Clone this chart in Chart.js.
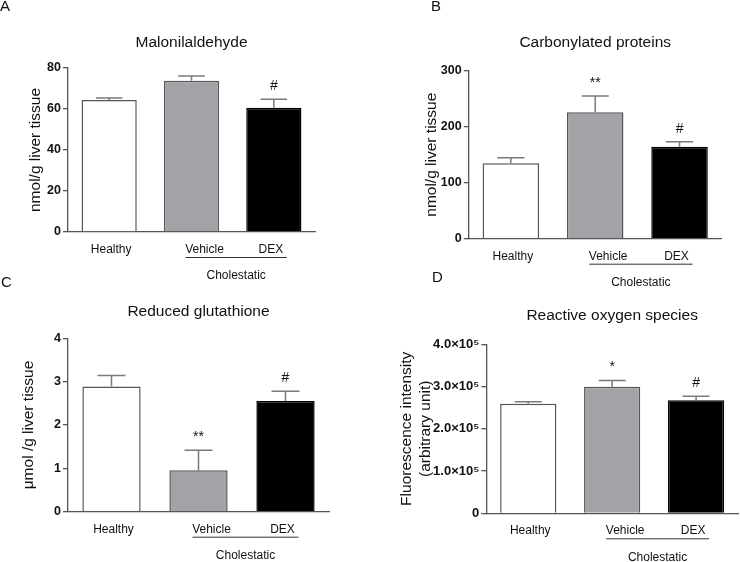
<!DOCTYPE html>
<html>
<head>
<meta charset="utf-8">
<script src="https://cdn.jsdelivr.net/npm/chart.js@4/dist/chart.umd.min.js"></script>
<style>
  html, body { margin: 0; padding: 0; background: #fff; }
  #wrap { position: relative; width: 740px; height: 562px; overflow: hidden; font-family: "Liberation Sans", Arial, sans-serif; }
  canvas { position: absolute; }
  .lt { position: absolute; font-size: 15px; line-height: 15px; color: #111; }
</style>
</head>
<body>
<div id="wrap">
  <canvas id="cA"></canvas>
  <canvas id="cB"></canvas>
  <canvas id="cC"></canvas>
  <canvas id="cD"></canvas>
  <div class="lt" style="left:0px;top:-2px;">A</div>
  <div class="lt" style="left:431px;top:-2px;">B</div>
  <div class="lt" style="left:1px;top:274px;">C</div>
  <div class="lt" style="left:432px;top:269px;">D</div>
</div>
<script>
// ---- data ----
const categories = ['Healthy', 'Vehicle', 'DEX'];
const groupLabel = 'Cholestatic';

const mdaTitle = 'Malonilaldehyde';
const mdaMean = [64.4, 73.8, 60.6];
const mdaErr = [1.0, 2.3, 4.1];
const mdaSig = ['', '', '#'];
const mdaTicks = [0, 20, 40, 60, 80];

const carbTitle = 'Carbonylated proteins';
const carbMean = [134.6, 226, 164.3];
const carbErr = [10, 29, 9];
const carbSig = ['', '**', '#'];
const carbTicks = [0, 100, 200, 300];

const gshTitle = 'Reduced glutathione';
const gshMean = [2.89, 0.955, 2.555];
const gshErr = [0.25, 0.46, 0.225];
const gshSig = ['', '**', '#'];
const gshTicks = [0, 1, 2, 3, 4];

const rosTitle = 'Reactive oxygen species';
const rosMean = [259400, 299600, 267500];
const rosErr = [4500, 15000, 9500];
const rosSig = ['', '*', '#'];
const rosTicks = [0, 100000, 200000, 300000, 400000];

// ---- styling ----
const FONT = '"Liberation Sans", Arial, sans-serif';
const barFill = ['#ffffff', '#a3a3a7', '#000000'];
const barEdge = ['#555555', '#555555', '#000000'];
const axisColor = '#555555';
const labelOffsets = [2, 13, -3];

function rosTick(v) {
  if (v === 0) return '0';
  return (v / 100000).toFixed(1) + '×10⁵';
}

function makePanel(id, cfg) {
  const cv = document.getElementById(id);
  cv.width = cfg.cw; cv.height = cfg.ch;
  cv.style.left = cfg.cx + 'px'; cv.style.top = cfg.cy + 'px';
  cv.style.width = cfg.cw + 'px'; cv.style.height = cfg.ch + 'px';
  const a = cfg.area; // absolute
  const padTop = a.top - cfg.cy;
  const padRight = cfg.cx + cfg.cw - a.right;
  const yW = a.left - cfg.cx;
  const xH = cfg.cy + cfg.ch - a.bottom;

  const decor = {
    id: 'decor' + id,
    afterDatasetsDraw(chart) {
      const ctx = chart.ctx;
      const ys = chart.scales.y;
      const meta = chart.getDatasetMeta(0);
      const ca = chart.chartArea;
      ctx.save();
      // error bars
      ctx.strokeStyle = '#7a7a7a';
      ctx.lineWidth = 1.5;
      meta.data.forEach((bar, i) => {
        const yb = ys.getPixelForValue(cfg.mean[i]);
        const yt = ys.getPixelForValue(cfg.mean[i] + cfg.err[i]);
        const half = bar.width * 0.24;
        ctx.beginPath();
        ctx.moveTo(bar.x, yb);
        ctx.lineTo(bar.x, yt);
        ctx.moveTo(bar.x - half, yt);
        ctx.lineTo(bar.x + half, yt);
        ctx.stroke();
        if (cfg.sig[i]) {
          ctx.fillStyle = '#111';
          ctx.font = '14px ' + FONT;
          ctx.textAlign = 'center';
          ctx.textBaseline = 'alphabetic';
          ctx.fillText(cfg.sig[i], bar.x, yt - 9);
        }
      });
      // category labels
      ctx.fillStyle = '#111';
      ctx.font = '12px ' + FONT;
      ctx.textAlign = 'center';
      ctx.textBaseline = 'middle';
      meta.data.forEach((bar, i) => {
        ctx.fillText(categories[i], bar.x + labelOffsets[i], ca.bottom + 17.5);
      });
      // group underline
      const x1 = meta.data[1].x - 6;
      const x2 = meta.data[2].x + 13;
      ctx.strokeStyle = '#333';
      ctx.lineWidth = 1;
      ctx.beginPath();
      ctx.moveTo(x1, ca.bottom + 25.5);
      ctx.lineTo(x2, ca.bottom + 25.5);
      ctx.stroke();
      ctx.fillText(groupLabel, (x1 + x2) / 2, ca.bottom + 44);
      // title
      ctx.font = '15.5px ' + FONT;
      ctx.fillText(cfg.title, (ca.left + ca.right) / 2, ca.top - cfg.titleGap);
      // y label(s)
      ctx.font = '15.5px ' + FONT;
      cfg.ylab.forEach((t, k) => {
        ctx.save();
        ctx.translate(ca.left - cfg.ylabOff[k], (ca.top + ca.bottom) / 2);
        ctx.rotate(-Math.PI / 2);
        ctx.fillText(t, 0, 0);
        ctx.restore();
      });
      ctx.restore();
    }
  };

  return new Chart(cv, {
    type: 'bar',
    data: {
      labels: categories,
      datasets: [{
        data: cfg.mean,
        backgroundColor: barFill,
        borderColor: barEdge,
        borderWidth: 1.5,
        categoryPercentage: 1,
        barPercentage: 0.67
      }]
    },
    options: {
      responsive: false,
      animation: false,
      devicePixelRatio: 1,
      layout: { padding: { top: padTop, right: padRight, left: 0, bottom: 0 } },
      plugins: { legend: { display: false }, tooltip: { enabled: false }, title: { display: false } },
      scales: {
        x: {
          grid: { display: false },
          border: { display: true, color: axisColor, width: 1.3 },
          ticks: { display: false },
          afterFit(s) { s.height = xH; }
        },
        y: {
          min: 0,
          max: cfg.ticks[cfg.ticks.length - 1],
          afterBuildTicks(s) { s.ticks = cfg.ticks.map(v => ({ value: v })); },
          afterFit(s) { s.width = yW; },
          grid: { drawOnChartArea: false, drawTicks: true, tickLength: 5, color: axisColor, lineWidth: 1.3 },
          border: { display: true, color: axisColor, width: 1.3 },
          ticks: {
            padding: 2,
            color: '#111',
            font: { family: FONT, size: cfg.tickSize || 12.5, weight: 'bold' },
            callback: cfg.tickFmt || (v => String(v))
          }
        }
      }
    },
    plugins: [decor]
  });
}

makePanel('cA', {
  cx: 0, cy: 0, cw: 370, ch: 295,
  area: { left: 68, right: 315, top: 68, bottom: 232 },
  mean: mdaMean, err: mdaErr, sig: mdaSig, ticks: mdaTicks,
  title: mdaTitle, titleGap: 25,
  ylab: ['nmol/g liver tissue'], ylabOff: [32]
});
makePanel('cB', {
  cx: 370, cy: 0, cw: 370, ch: 295,
  area: { left: 468.7, right: 721.7, top: 70.7, bottom: 238.7 },
  mean: carbMean, err: carbErr, sig: carbSig, ticks: carbTicks,
  title: carbTitle, titleGap: 28,
  ylab: ['nmol/g liver tissue'], ylabOff: [37]
});
makePanel('cC', {
  cx: 0, cy: 262, cw: 370, ch: 300,
  area: { left: 68, right: 329, top: 338.3, bottom: 511.7 },
  mean: gshMean, err: gshErr, sig: gshSig, ticks: gshTicks,
  title: gshTitle, titleGap: 27,
  ylab: ['μmol /g liver tissue'], ylabOff: [39]
});
makePanel('cD', {
  cx: 370, cy: 262, cw: 370, ch: 300,
  area: { left: 486.3, right: 738, top: 344.3, bottom: 513.3 },
  mean: rosMean, err: rosErr, sig: rosSig, ticks: rosTicks,
  title: rosTitle, titleGap: 29, tickFmt: rosTick, tickSize: 13,
  ylab: ['Fluorescence intensity', '(arbitrary unit)'], ylabOff: [80, 61]
});
</script>
</body>
</html>
